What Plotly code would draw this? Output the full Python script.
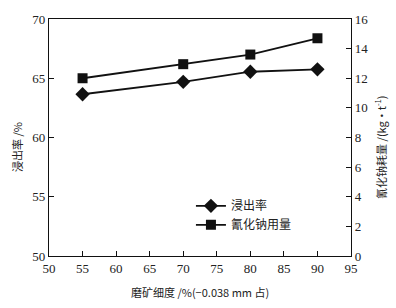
import plotly.graph_objects as go

fineness = [55, 70, 80, 90]
leach_rate = [63.65, 64.7, 65.55, 65.75]
nacn_consumption = [12.0, 12.95, 13.6, 14.7]

x_title = "磨矿细度 /%(−0.038 mm 占)"
y_title = "浸出率 /%"
y2_title = "氰化钠耗量 /(kg·t<sup>-1</sup>)"

serif = "Liberation Serif, Times New Roman, serif"
cjk = "Noto Sans CJK SC"

fig = go.Figure()
fig.add_trace(go.Scatter(
    x=fineness, y=leach_rate, name="浸出率", mode="lines+markers",
    line=dict(color="#111", width=1.8),
    marker=dict(symbol="diamond", size=11, color="#111"),
))
fig.add_trace(go.Scatter(
    x=fineness, y=nacn_consumption, name="氰化钠用量", mode="lines+markers",
    yaxis="y2",
    line=dict(color="#111", width=1.8),
    marker=dict(symbol="square", size=10, color="#111"),
))

axis_common = dict(
    showline=True, linecolor="#111", linewidth=1.2,
    ticks="inside", ticklen=5, tickcolor="#111", tickwidth=1,
    showgrid=False, zeroline=False,
    tickfont=dict(family=serif, size=13, color="#222"),
)

title_font = dict(family=cjk, size=11, color="#222")

fig.update_layout(
    width=396, height=308,
    margin=dict(l=49, r=45, t=19, b=52),
    paper_bgcolor="white", plot_bgcolor="white",
    showlegend=True,
    legend=dict(x=0.47, y=0.273, xanchor="left", yanchor="top",
                bgcolor="rgba(0,0,0,0)",
                font=dict(family=cjk, size=12, color="#222"),
                tracegroupgap=2),
    xaxis=dict(range=[50, 95], tickvals=list(range(50, 96, 5)),
               mirror=True, **axis_common),
    yaxis=dict(range=[50, 70], tickvals=[50, 55, 60, 65, 70],
               **axis_common),
    yaxis2=dict(range=[0, 16], tickvals=list(range(0, 17, 2)),
                overlaying="y", side="right", **axis_common),
    annotations=[
        dict(text=x_title, xref="paper", yref="paper", x=0.5, y=-0.152,
             xanchor="center", yanchor="middle", showarrow=False, font=title_font),
        dict(text=y_title, xref="paper", yref="paper", x=-0.106, y=0.46,
             xanchor="center", yanchor="middle", textangle=-90,
             showarrow=False, font=title_font),
        dict(text=y2_title, xref="paper", yref="paper", x=1.099, y=0.46,
             xanchor="center", yanchor="middle", textangle=-90,
             showarrow=False, font=title_font),
    ],
)

fig.write_html("out.html", config={"displayModeBar": False},
               post_script="document.body.style.margin='0';document.body.style.overflow='hidden';")
